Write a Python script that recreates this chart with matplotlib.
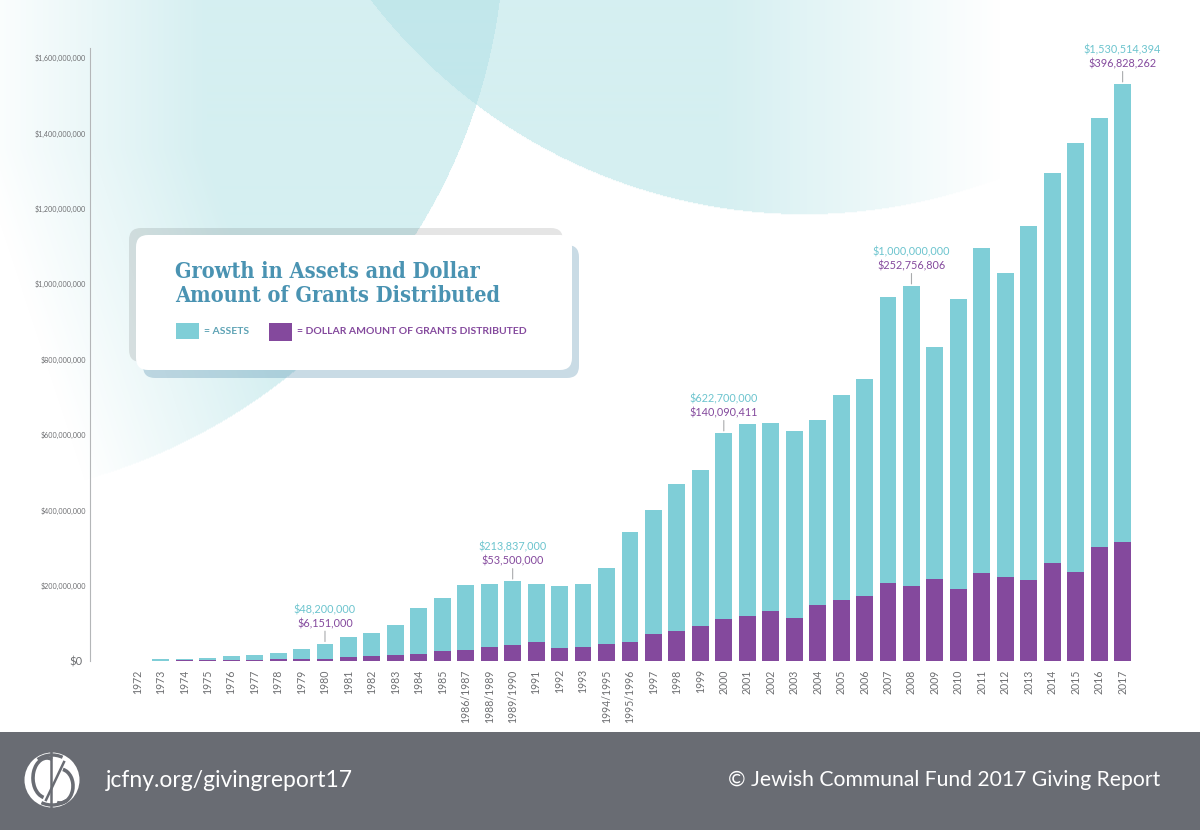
import numpy as np
import matplotlib
matplotlib.use("Agg")
import matplotlib.pyplot as plt
from matplotlib.patches import FancyBboxPatch, Rectangle, Circle, Arc

categories = ["1972","1973","1974","1975","1976","1977","1978","1979","1980","1981","1982","1983","1984","1985",
              "1986/1987","1988/1989","1989/1990","1991","1992","1993","1994/1995","1995/1996","1997","1998","1999",
              "2000","2001","2002","2003","2004","2005","2006","2007","2008","2009","2010","2011","2012","2013",
              "2014","2015","2016","2017"]
assets_m = [0,4.4,6.2,8.8,12.4,15,22,32.7,46,62.8,73.4,96.4,139.7,167,
            202,204,212,204,199,204,248,343,400,470,508,
            605,629,632,611,639,705,747,965,995,833,960,1096,1029,1154,
            1295,1374,1441,1531]
grants_m = [0,1,1.5,2,2.5,3,4,5,6,10,12,16,19.5,25.6,
            28,37,41.6,51,33.6,36,45,51,71,80,93,
            110.5,120,133,114,149,161,172,207,200,218,190,233,224,216,
            261,235,302,315]
ytick_values = [0,200,400,600,800,1000,1200,1400,1600]
callouts = {"1980":("$48,200,000","$6,151,000"),
            "1989/1990":("$213,837,000","$53,500,000"),
            "2000":("$622,700,000","$140,090,411"),
            "2008":("$1,000,000,000","$252,756,806"),
            "2017":("$1,530,514,394","$396,828,262")}

TEAL="#7fced7"; PURPLE="#84499d"; GREY="#6d6e71"; FONT="Lato"
W,H=1200,830
fig=plt.figure(figsize=(12,8.3),dpi=100,facecolor="white")

# ---- decorative layer in pixel coordinates
bg=fig.add_axes([0,0,1,1],zorder=0); bg.set_xlim(0,W); bg.set_ylim(H,0); bg.axis("off")

def circ3(p,q,r):
    A=np.array([[2*(q[0]-p[0]),2*(q[1]-p[1])],[2*(r[0]-p[0]),2*(r[1]-p[1])]],float)
    b=np.array([q[0]**2+q[1]**2-p[0]**2-p[1]**2,r[0]**2+r[1]**2-p[0]**2-p[1]**2],float)
    c=np.linalg.solve(A,b); return c[0],c[1],np.hypot(p[0]-c[0],p[1]-c[1])
xx,yy=np.meshgrid(np.arange(W)+.5,np.arange(H)+.5)
lc=circ3((500,0),(420,228),(0,497))
rc=circ3((370,0),(473,103),(800,215))
ml=(xx-lc[0])**2+(yy-lc[1])**2<lc[2]**2
mr=(xx-rc[0])**2+(yy-rc[1])**2<rc[2]**2
al=np.clip(xx/230+0.1-np.maximum(0,yy-150)/700,0,1)*ml
ar=np.clip((1000-xx)/280,0,1)*mr
C1=np.array([0xd5,0xef,0xf1])/255; C2=np.array([0xc2,0xe7,0xeb])/255
top=np.maximum(al,ar)[...,None]; ov=np.minimum(al,ar)[...,None]
img=1-top*(1-C1)
img=img*(1-ov)+ov*C2
bg.imshow(img,extent=(0,W,H,0),aspect="auto",zorder=0,interpolation="bilinear")
bg.set_xlim(0,W); bg.set_ylim(H,0)

def rbox(x0,y0,x1,y1,r,**k):
    p=FancyBboxPatch((x0+r,y0+r),x1-x0-2*r,y1-y0-2*r,boxstyle=f"round,pad={r},rounding_size={r}",lw=0,**k)
    bg.add_patch(p)
rbox(129,228,563,362,12,facecolor="black",alpha=0.10,zorder=2)
rbox(143,245,579,378,12,facecolor="#3f7fa3",alpha=0.28,zorder=2)
rbox(136,235,572,370,12,facecolor="white",zorder=3)
for y,s in ((272,"Growth in Assets and Dollar"),(296,"Amount of Grants Distributed")):
    bg.text(175,y,s,color="#4a93b2",fontsize=15.6,fontweight="bold",family="DejaVu Serif",stretch="condensed",va="center",ha="left",zorder=4)
bg.add_patch(Rectangle((176,323),23,16,facecolor=TEAL,lw=0,zorder=4))
bg.add_patch(Rectangle((269,323),23,18,facecolor=PURPLE,lw=0,zorder=4))
bg.text(204,331.5,"= ASSETS",color="#5ea3b5",fontsize=7.5,fontweight="bold",family=FONT,va="center",zorder=4)
bg.text(297,331.5,"= DOLLAR AMOUNT OF GRANTS DISTRIBUTED",color=PURPLE,fontsize=7.5,fontweight="bold",family=FONT,va="center",zorder=4)

# footer
FOOT="#696c73"
bg.add_patch(Rectangle((0,732),W,98,facecolor=FOOT,lw=0,zorder=2))
bg.text(106,780,"jcfny.org/givingreport17",color="white",fontsize=16.5,family=FONT,va="center",ha="left",zorder=4)
bg.text(1160,780,"\u00a9 Jewish Communal Fund 2017 Giving Report",color="white",fontsize=15.2,family=FONT,va="center",ha="right",zorder=4)
# logo
bg.add_patch(Circle((52,780),27.5,facecolor="white",lw=0,zorder=3))
for (c,w,h,t1,t2,lw) in [((47,778),28,40,100,285,2.6),((60,786),26,34,280,100,2.6),
                         ((52,780),50,50,55,115,2.4),((52,780),50,50,235,295,2.4)]:
    bg.add_patch(Arc(c,w,h,theta1=t1,theta2=t2,color=FOOT,lw=lw,zorder=4))
bg.plot([51,51],[752,808],color=FOOT,lw=1.8,zorder=4)
bg.plot([46,64],[800,762],color=FOOT,lw=1.8,zorder=4)

# ---- chart layer
x0,x1=90,1135; ytop,ybase=48,661
ax=fig.add_axes([x0/W,1-ybase/H,(x1-x0)/W,(ybase-ytop)/H],zorder=1)
ax.patch.set_alpha(0)
step=23.46; first=137.3
ax.set_xlim((x0-first)/step,(x1-first)/step)
ax.set_ylim(0,(ybase-ytop)/603*1600)
pos=np.arange(len(categories))
ax.bar(pos,assets_m,width=0.72,color=TEAL,lw=0,label="Assets")
ax.bar(pos,grants_m,width=0.72,color=PURPLE,lw=0,label="Dollar amount of grants distributed")
for s in ("top","right","bottom"): ax.spines[s].set_visible(False)
ax.spines["left"].set_color("#b4b6b8"); ax.spines["left"].set_linewidth(0.8)
ax.set_xticks(pos); ax.set_xticklabels(categories,rotation=90,fontsize=7.6,color=GREY,family=FONT,va="top",ha="center")
ax.set_yticks(ytick_values)
ylabels=["$0"]+[f"${v*1000000:,}" for v in ytick_values[1:]]
ax.set_yticklabels(ylabels,fontsize=5.1,color=GREY,family=FONT,va="center_baseline")
ax.get_yticklabels()[0].set_fontsize(8)
ax.tick_params(axis="x",length=0,pad=6)
ax.tick_params(axis="y",length=0,pad=3)
ax.yaxis.get_major_ticks()[0].set_pad(5.5)
for cat,(a,g) in callouts.items():
    i=categories.index(cat); top_v=assets_m[i]
    ax.annotate(g,xy=(i,top_v),xytext=(0,14.5),textcoords="offset points",ha="center",va="center",color=PURPLE,fontsize=7.8,family=FONT,annotation_clip=False)
    ax.annotate(a,xy=(i,top_v),xytext=(0,24.5),textcoords="offset points",ha="center",va="center",color="#6cc4ce",fontsize=7.8,family=FONT,annotation_clip=False)
    ax.annotate("",xy=(i,top_v),xytext=(0,9),textcoords="offset points",
                arrowprops=dict(arrowstyle="-",color="#a9abad",lw=0.8,shrinkA=0,shrinkB=1.5),annotation_clip=False)
fig.savefig("out.png",dpi=100)
